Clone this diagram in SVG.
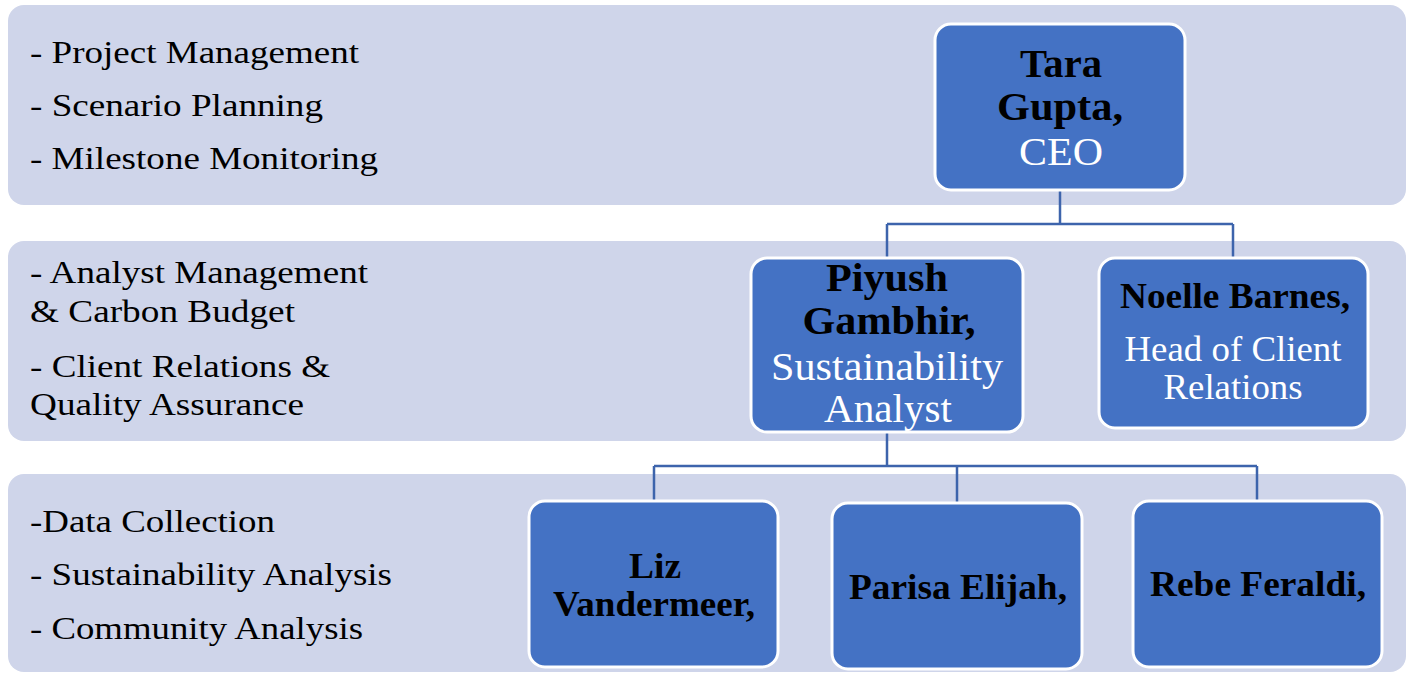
<svg xmlns="http://www.w3.org/2000/svg" width="1411" height="673" viewBox="0 0 1411 673" font-family="Liberation Serif, Times New Roman, serif">
<style>
.band{fill:#CFD5EA;}
.node{fill:#4472C4;stroke:#FFFFFF;stroke-width:3;}
.conn{fill:none;stroke:#3D64AC;stroke-width:2.5;}
.lt{font-size:32px;fill:#000;}
.b{font-weight:bold;fill:#000;text-anchor:middle;}
.r{fill:#FFFFFF;text-anchor:middle;}
</style>
<rect width="1411" height="673" fill="#FFFFFF"/>
<g id="bands">
<rect class="band" x="8" y="5" width="1398" height="200" rx="16"/>
<rect class="band" x="8" y="241" width="1398" height="200" rx="16"/>
<rect class="band" x="8" y="474" width="1398" height="198" rx="16"/>
</g>
<g id="band-texts" font-family="Liberation Serif, Times New Roman, serif">
<text class="lt" x="30" y="63" textLength="329" lengthAdjust="spacingAndGlyphs">- Project Management</text>
<text class="lt" x="30" y="116" textLength="293" lengthAdjust="spacingAndGlyphs">- Scenario Planning</text>
<text class="lt" x="30" y="169" textLength="348" lengthAdjust="spacingAndGlyphs">- Milestone Monitoring</text>
<text class="lt" x="30" y="283" textLength="338" lengthAdjust="spacingAndGlyphs">- Analyst Management</text>
<text class="lt" x="30" y="322" textLength="265" lengthAdjust="spacingAndGlyphs">&amp; Carbon Budget</text>
<text class="lt" x="30" y="377" textLength="300" lengthAdjust="spacingAndGlyphs">- Client Relations &amp;</text>
<text class="lt" x="30" y="415" textLength="274" lengthAdjust="spacingAndGlyphs">Quality Assurance</text>
<text class="lt" x="30" y="532" textLength="245" lengthAdjust="spacingAndGlyphs">-Data Collection</text>
<text class="lt" x="30" y="585" textLength="362" lengthAdjust="spacingAndGlyphs">- Sustainability Analysis</text>
<text class="lt" x="30" y="639" textLength="333" lengthAdjust="spacingAndGlyphs">- Community Analysis</text>
</g>
<g id="connectors">
<path class="conn" d="M1060,191 V224 M887,224 H1233 M887,224 V258 M1233,224 V258"/>
<path class="conn" d="M887,432 V466 M654,466 H1257 M654,466 V501 M957,466 V503 M1257,466 V501"/>
</g>
<g id="node-tara" font-family="Liberation Serif, Times New Roman, serif">
<rect class="node" x="935" y="24" width="250" height="166" rx="16"/>
<text class="b" x="1061" y="77" font-size="40" textLength="82" lengthAdjust="spacingAndGlyphs">Tara</text>
<text class="b" x="1060" y="120" font-size="40" textLength="126" lengthAdjust="spacingAndGlyphs">Gupta,</text>
<text class="r" x="1061" y="165" font-size="40" textLength="84" lengthAdjust="spacingAndGlyphs">CEO</text>
</g>
<g id="node-piyush" font-family="Liberation Serif, Times New Roman, serif">
<rect class="node" x="751" y="258" width="272" height="174" rx="16"/>
<text class="b" x="887" y="291" font-size="40" textLength="122" lengthAdjust="spacingAndGlyphs">Piyush</text>
<text class="b" x="889" y="334" font-size="40" textLength="173" lengthAdjust="spacingAndGlyphs">Gambhir,</text>
<text class="r" x="887" y="380" font-size="40" textLength="232" lengthAdjust="spacingAndGlyphs">Sustainability</text>
<text class="r" x="888" y="422" font-size="40" textLength="128" lengthAdjust="spacingAndGlyphs">Analyst</text>
</g>
<g id="node-noelle" font-family="Liberation Serif, Times New Roman, serif">
<rect class="node" x="1099" y="258" width="269" height="170" rx="16"/>
<text class="b" x="1235" y="308" font-size="36" textLength="230" lengthAdjust="spacingAndGlyphs">Noelle Barnes,</text>
<text class="r" x="1233" y="361" font-size="36" textLength="217" lengthAdjust="spacingAndGlyphs">Head of Client</text>
<text class="r" x="1233" y="399" font-size="36" textLength="139" lengthAdjust="spacingAndGlyphs">Relations</text>
</g>
<g id="node-liz" font-family="Liberation Serif, Times New Roman, serif">
<rect class="node" x="529" y="501" width="249" height="166" rx="16"/>
<text class="b" x="655" y="578" font-size="35" textLength="52" lengthAdjust="spacingAndGlyphs">Liz</text>
<text class="b" x="654" y="616" font-size="35" textLength="202" lengthAdjust="spacingAndGlyphs">Vandermeer,</text>
</g>
<g id="node-parisa" font-family="Liberation Serif, Times New Roman, serif">
<rect class="node" x="832" y="503" width="250" height="166" rx="16"/>
<text class="b" x="958" y="599" font-size="35" textLength="218" lengthAdjust="spacingAndGlyphs">Parisa Elijah,</text>
</g>
<g id="node-rebe" font-family="Liberation Serif, Times New Roman, serif">
<rect class="node" x="1133" y="501" width="249" height="166" rx="16"/>
<text class="b" x="1258" y="596" font-size="35" textLength="216" lengthAdjust="spacingAndGlyphs">Rebe Feraldi,</text>
</g>
</svg>
